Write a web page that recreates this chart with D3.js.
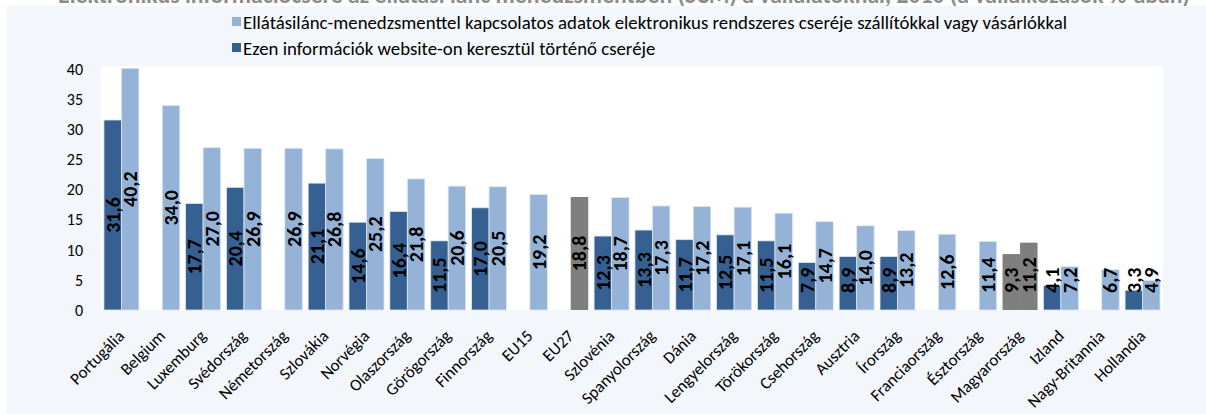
<!DOCTYPE html>
<html>
<head>
<meta charset="utf-8">
<script src="https://cdn.jsdelivr.net/npm/d3@7"></script>
<style>
  html, body { margin: 0; padding: 0; background: #ffffff; }
  svg { display: block; }
  text { font-family: Carlito, Calibri, Lato, "Liberation Sans", sans-serif; }
</style>
</head>
<body>
<svg id="chart" width="1206" height="414"></svg>
<script>
// Országok / csoportok a diagram sorrendjében
const categories = [
  "Portugália", "Belgium", "Luxemburg", "Svédország", "Németország", "Szlovákia",
  "Norvégia", "Olaszország", "Görögország", "Finnország", "EU15", "EU27",
  "Szlovénia", "Spanyolország", "Dánia", "Lengyelország", "Törökország",
  "Csehország", "Ausztria", "Írország", "Franciaország", "Észtország",
  "Magyarország", "Izland", "Nagy-Britannia", "Hollandia"
];

// Ellátásilánc-menedzsmenttel kapcsolatos adatok elektronikus cseréje (%)
const scmExchange = [
  40.2, 34.0, 27.0, 26.9, 26.9, 26.8, 25.2, 21.8, 20.6, 20.5, 19.2, 18.8,
  18.7, 17.3, 17.2, 17.1, 16.1, 14.7, 14.0, 13.2, 12.6, 11.4, 11.2, 7.2, 6.7, 4.9
];

// Ezen információk website-on keresztül történő cseréje (%), null = nincs adat
const websiteExchange = [
  31.6, null, 17.7, 20.4, null, 21.1, 14.6, 16.4, 11.5, 17.0, null, null,
  12.3, 13.3, 11.7, 12.5, 11.5, 7.9, 8.9, 8.9, null, null, 9.3, 4.1, null, 3.3
];

// Kiemelt (szürke) oszlopok
const highlighted = ["EU27", "Magyarország"];

const seriesNames = [
  "Ellátásilánc-menedzsmenttel kapcsolatos adatok elektronikus rendszeres cseréje szállítókkal vagy vásárlókkal",
  "Ezen információk website-on keresztül történő cseréje"
];

const yTicks = [0, 5, 10, 15, 20, 25, 30, 35, 40];

const titleText = "Elektronikus információcsere az ellátási lánc menedzsmentben (SCM) a vállalatoknál, 2010 (a vállalkozások %-ában)";

const colors = { light: "#95B3D7", dark: "#376092", gray: "#7F7F7F", bg: "#F3F6FB" };

const svg = d3.select("#chart");
const W = 1206, H = 414;
const plot = { left: 101, right: 1163, top: 66, bottom: 310 };

// Cím (a felső szélen túlnyúlik, a háttér takarja az alját)
const title = svg.append("text")
  .attr("x", 624).attr("y", 3)
  .attr("text-anchor", "middle")
  .attr("fill", "#8C8C8C")
  .attr("font-weight", "bold")
  .attr("font-size", 22)
  .text(titleText);
{
  const len = title.node().getComputedTextLength();
  title.attr("font-size", 22 * 1132 / len);
}

// Háttér
svg.append("rect").attr("x", 7).attr("y", 6).attr("width", W - 7).attr("height", H - 6)
  .attr("fill", colors.bg);

// Rajzterület
svg.append("rect")
  .attr("x", plot.left).attr("y", plot.top)
  .attr("width", plot.right - plot.left).attr("height", plot.bottom - plot.top)
  .attr("fill", "#ffffff");

const x = d3.scaleBand().domain(categories).range([plot.left, plot.right]).padding(0);
const y = d3.scaleLinear().domain([0, 40]).range([plot.bottom, 69.5]);

const gapRatio = 0.335;
const barW = x.bandwidth() / (2 + gapRatio);
const inner = d3.scaleBand().domain(["web", "scm"])
  .range([(x.bandwidth() - 2 * barW) / 2, (x.bandwidth() + 2 * barW) / 2]).padding(0);

const rows = categories.map((c, i) => ({ cat: c, web: websiteExchange[i], scm: scmExchange[i] }));
const bars = [];
rows.forEach(r => {
  ["web", "scm"].forEach(k => {
    if (r[k] != null) bars.push({ cat: r.cat, key: k, value: r[k] });
  });
});

const fillFor = d => highlighted.includes(d.cat) ? colors.gray
  : (d.key === "scm" ? colors.light : colors.dark);

svg.append("g").selectAll("rect").data(bars).join("rect")
  .attr("x", d => x(d.cat) + inner(d.key))
  .attr("y", d => y(d.value))
  .attr("width", barW)
  .attr("height", d => y(0) - y(d.value))
  .attr("fill", fillFor)
  .attr("stroke", d => highlighted.includes(d.cat) ? "none" : "#DCE6F2")
  .attr("stroke-width", 0.8);

// Értékcímkék, függőlegesen, az oszlop közepén
const fmt = v => v.toFixed(1).replace(".", ",");
const labels = svg.append("g").selectAll("text").data(bars).join("text")
  .attr("font-size", 20)
  .attr("font-weight", "bold")
  .attr("fill", "#000")
  .attr("text-anchor", "middle")
  .attr("dominant-baseline", "central")
  .text(d => fmt(d.value));
labels.each(function(d) {
  const len = this.getComputedTextLength();
  const cx = x(d.cat) + inner(d.key) + barW / 2;
  const mid = (y(d.value) + y(0)) / 2;
  const cy = Math.min(mid, y(0) - 17 - len / 2);
  d3.select(this).attr("transform", `translate(${cx},${cy}) rotate(-90)`);
});

// Y tengely
const yAxis = svg.append("g").attr("transform", `translate(${plot.left - 18},0)`)
  .call(d3.axisLeft(y).tickValues(yTicks).tickSize(0).tickPadding(0));
yAxis.select(".domain").remove();
yAxis.selectAll("text").attr("font-size", 16).attr("fill", "#000")
  .attr("font-family", "Carlito, Calibri, Lato, sans-serif");

// X tengely címkék, 45°-ban elforgatva
const xAxis = svg.append("g").attr("transform", `translate(0,${plot.bottom})`)
  .call(d3.axisBottom(x).tickSize(0).tickFormat(d => d));
xAxis.select(".domain").remove();
xAxis.selectAll("text")
  .attr("font-size", 16.8).attr("fill", "#000")
  .attr("font-family", "Carlito, Calibri, Lato, sans-serif")
  .attr("text-anchor", "end")
  .attr("dy", 0).attr("y", 0)
  .attr("transform", "translate(4,27) rotate(-45)");

// Jelmagyarázat
const legend = svg.append("g");
const legendItems = [
  { name: seriesNames[0], color: colors.light, cy: 22 },
  { name: seriesNames[1], color: colors.dark, cy: 48 }
];
legendItems.forEach(it => {
  legend.append("rect").attr("x", 232).attr("y", it.cy - 5).attr("width", 9).attr("height", 9)
    .attr("fill", it.color);
  legend.append("text").attr("class", "lg").attr("x", 243).attr("y", it.cy)
    .attr("dominant-baseline", "central").attr("font-size", 16).attr("fill", "#000")
    .text(it.name);
});
{
  const first = legend.select("text.lg").node();
  const len = first.getComputedTextLength();
  legend.selectAll("text.lg").attr("font-size", 16 * 825 / len);
}
</script>
</body>
</html>
